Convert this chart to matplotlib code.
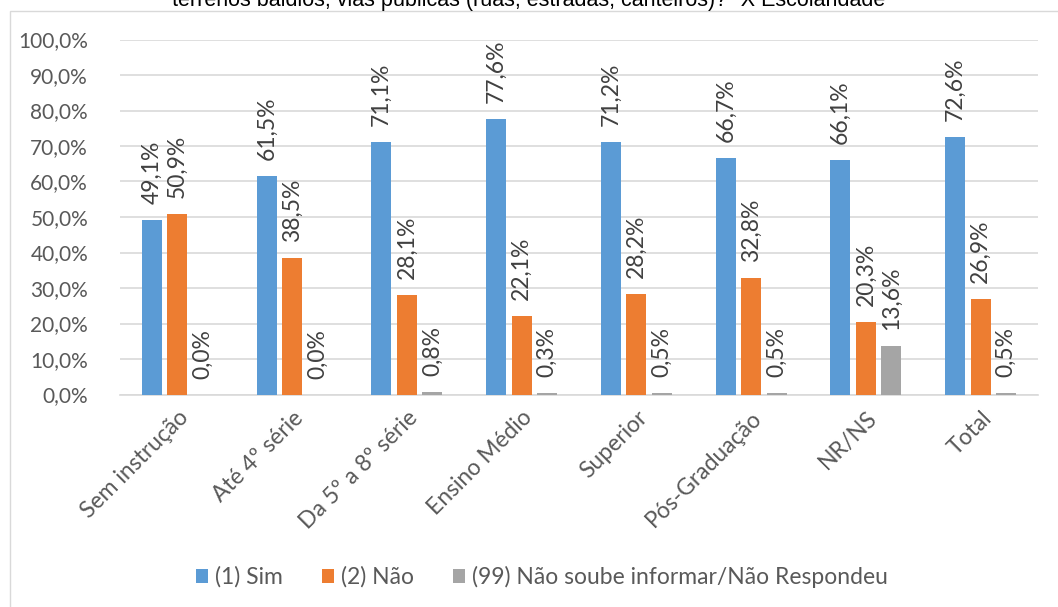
import matplotlib
matplotlib.use("Agg")
import matplotlib.pyplot as plt
import numpy as np
from matplotlib.patches import Rectangle

categories = ["Sem instrução", "Até 4º série", "Da 5º a 8º série", "Ensino Médio",
              "Superior", "Pós-Graduação", "NR/NS", "Total"]
sim = [49.1, 61.5, 71.1, 77.6, 71.2, 66.7, 66.1, 72.6]
nao = [50.9, 38.5, 28.1, 22.1, 28.2, 32.8, 20.3, 26.9]
nr = [0.0, 0.0, 0.8, 0.3, 0.5, 0.5, 13.6, 0.5]
series_names = ["(1) Sim", "(2) Não", "(99) Não soube informar/Não Respondeu"]
title = "terrenos baldios, vias públicas (ruas, estradas, canteiros)?\" X Escolaridade"

colors = ["#5b9bd5", "#ed7d31", "#a5a5a5"]
text_color = "#595959"
plt.rcParams["font.family"] = ["Lato", "DejaVu Sans"]

W, H = 1058, 607
fig = plt.figure(figsize=(W / 100, H / 100), dpi=100)
# outer chart frame
fig.patches.append(Rectangle((9.5 / W, -0.01), 1.1, 1 - 10.5 / H + 0.01,
                             transform=fig.transFigure, fill=False,
                             edgecolor="#d9d9d9", linewidth=1))
# title sits partly above the top edge
fig.text(0.5, 1 - 6 / H, title, ha="center", va="baseline", fontsize=15.5,
         family="Liberation Sans", color="#000000")

ax = fig.add_axes([120 / W, 1 - 394.5 / H, (1038 - 120) / W, (394.5 - 39.5) / H])
x = np.arange(len(categories))
cat_px = (1038 - 120) / len(categories)
w = 20 / cat_px
step = 25.5 / cat_px
for i, (vals, c) in enumerate(zip([sim, nao, nr], colors)):
    pos = x + (i - 1) * step
    ax.bar(pos, vals, width=w, color=c, label=series_names[i], zorder=3)
    for p, v in zip(pos, vals):
        ax.text(p, v + 4.5, f"{v:.1f}%".replace(".", ","), rotation=90,
                ha="center", va="bottom", fontsize=16.5, color="#404040")

ax.set_xlim(-0.5, len(categories) - 0.5)
ax.set_ylim(0, 100)
ax.set_yticks(np.arange(0, 101, 10))
ax.set_yticklabels([f"{v:.1f}%".replace(".", ",") for v in range(0, 101, 10)])
ax.set_xticks(x)
ax.set_xticklabels(categories, rotation=45, ha="right", rotation_mode="anchor")
ax.tick_params(axis="y", length=0, labelsize=15, colors=text_color, pad=23)
ax.tick_params(axis="x", length=0, labelsize=16.5, colors=text_color, pad=9)
ax.grid(axis="y", color="#d9d9d9", linewidth=1.2, zorder=0)
for s in ["top", "right", "left"]:
    ax.spines[s].set_visible(False)
ax.spines["bottom"].set_color("#d9d9d9")
ax.spines["bottom"].set_linewidth(1.2)

handles, labels = ax.get_legend_handles_labels()
fig.legend(handles, labels, loc="center", bbox_to_anchor=(542 / W, 1 - 577 / H), ncol=3,
           frameon=False, fontsize=16.5, handlelength=0.52, handleheight=0.52,
           columnspacing=1.7, handletextpad=0.3, labelcolor=text_color)

fig.savefig("out.png", dpi=100)
